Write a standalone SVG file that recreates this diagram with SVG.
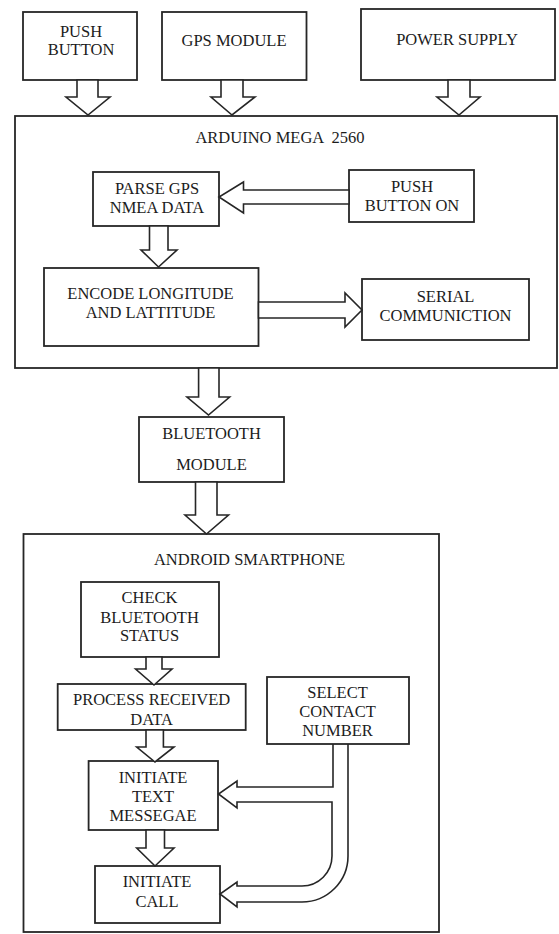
<svg xmlns="http://www.w3.org/2000/svg" width="559" height="934" viewBox="0 0 559 934">
<style>
  .box { fill: #ffffff; stroke: #262626; stroke-width: 1.8; }
  .arr { fill: #ffffff; stroke: #262626; stroke-width: 1.6; stroke-linejoin: miter; }
  .line { fill: none; stroke: #262626; stroke-width: 1.6; }
  text { font-family: "Liberation Serif", "Times New Roman", serif; font-size: 16.5px; fill: #1c1c1c; text-anchor: middle; }
</style>
<rect x="0" y="0" width="559" height="934" fill="#ffffff"/>

<g id="arduino">
  <rect class="box" x="15" y="116" width="542" height="252"/>
  <text x="280" y="143" xml:space="preserve">ARDUINO MEGA  2560</text>
</g>
<g id="android">
  <rect class="box" x="23.5" y="534" width="415.5" height="398"/>
  <text x="249.5" y="565">ANDROID SMARTPHONE</text>
</g>

<g id="push-button">
  <rect class="box" x="23" y="12" width="114" height="68"/>
  <text x="81" y="37">PUSH</text>
  <text x="81" y="55">BUTTON</text>
</g>
<g id="gps-module">
  <rect class="box" x="162" y="12" width="144.5" height="68"/>
  <text x="234" y="46">GPS MODULE</text>
</g>
<g id="power-supply">
  <rect class="box" x="361" y="9" width="194" height="71"/>
  <text x="457" y="45">POWER SUPPLY</text>
</g>
<g id="parse-gps">
  <rect class="box" x="93" y="172" width="126" height="54"/>
  <text x="157" y="194">PARSE GPS</text>
  <text x="157" y="213">NMEA DATA</text>
</g>
<g id="push-button-on">
  <rect class="box" x="349" y="170" width="125" height="52"/>
  <text x="412" y="192">PUSH</text>
  <text x="412" y="211">BUTTON ON</text>
</g>
<g id="encode">
  <rect class="box" x="44" y="268" width="214.5" height="78"/>
  <text x="150.5" y="299">ENCODE LONGITUDE</text>
  <text x="150.5" y="318">AND LATTITUDE</text>
</g>
<g id="serial">
  <rect class="box" x="362" y="279" width="167" height="61"/>
  <text x="445.5" y="302">SERIAL</text>
  <text x="445.5" y="321">COMMUNICTION</text>
</g>
<g id="bluetooth-module">
  <rect class="box" x="139" y="417" width="145" height="65"/>
  <text x="211.5" y="439">BLUETOOTH</text>
  <text x="211.5" y="470">MODULE</text>
</g>
<g id="check-bluetooth">
  <rect class="box" x="81" y="582" width="138" height="75"/>
  <text x="149.5" y="603">CHECK</text>
  <text x="149.5" y="623">BLUETOOTH</text>
  <text x="149.5" y="641">STATUS</text>
</g>
<g id="process-data">
  <rect class="box" x="57.7" y="684" width="188" height="46"/>
  <text x="151.6" y="705">PROCESS RECEIVED</text>
  <text x="151.6" y="725">DATA</text>
</g>
<g id="select-contact">
  <rect class="box" x="267" y="677" width="142" height="67"/>
  <text x="337.5" y="698">SELECT</text>
  <text x="337.5" y="717">CONTACT</text>
  <text x="337.5" y="736">NUMBER</text>
</g>
<g id="initiate-text">
  <rect class="box" x="88.6" y="761" width="129.4" height="69"/>
  <text x="153" y="783">INITIATE</text>
  <text x="153" y="802">TEXT</text>
  <text x="153" y="821">MESSEGAE</text>
</g>
<g id="initiate-call">
  <rect class="box" x="95" y="866" width="125" height="57"/>
  <text x="157" y="887">INITIATE</text>
  <text x="157" y="907">CALL</text>
</g>

<g id="connectors">
  <polygon class="arr" points="77,80 77,97 66,97 88,115 110,97 98,97 98,80"/>
  <polygon class="arr" points="221,80 221,97 211,97 232,115 255,97 243,97 243,80"/>
  <polygon class="arr" points="448,80 448,97 437,97 459,115 480,97 470,97 470,80"/>
  <polygon class="arr" points="349,190 243.5,190 243.5,182 219,197 243.5,213 243.5,204 349,204"/>
  <polygon class="arr" points="149.5,226 149.5,250 141,250 158.5,267 177,250 168,250 168,226"/>
  <polygon class="arr" points="258.5,302 345,302 345,293 362,310 345,327 345,318 258.5,318"/>
  <polygon class="arr" points="198.6,368 198.6,397 187,397 208.5,415 229.6,397 219,397 219,368"/>
  <polygon class="arr" points="195.5,482 195.5,515 185,515 206.5,534 228.5,515 217,515 217,482"/>
  <polygon class="arr" points="146,657 146,669 135.6,669 154,685 172,669 162,669 162,657"/>
  <polygon class="arr" points="146,730 146,747 136.7,747 155,762 174,747 163.4,747 163.4,730"/>
  <polygon class="arr" points="146,830 146,848 136.7,848 155,866 174,848 164.5,848 164.5,830"/>
  <path class="line" d="M333,744 V787 H237 V781 L218.5,794 L237,808 V802 H332 V856 A30,30 0 0 1 302,886 H237 V882 L220,894 L237,907 V902 H302 A46,46 0 0 0 348,856 V744"/>
</g>
</svg>
